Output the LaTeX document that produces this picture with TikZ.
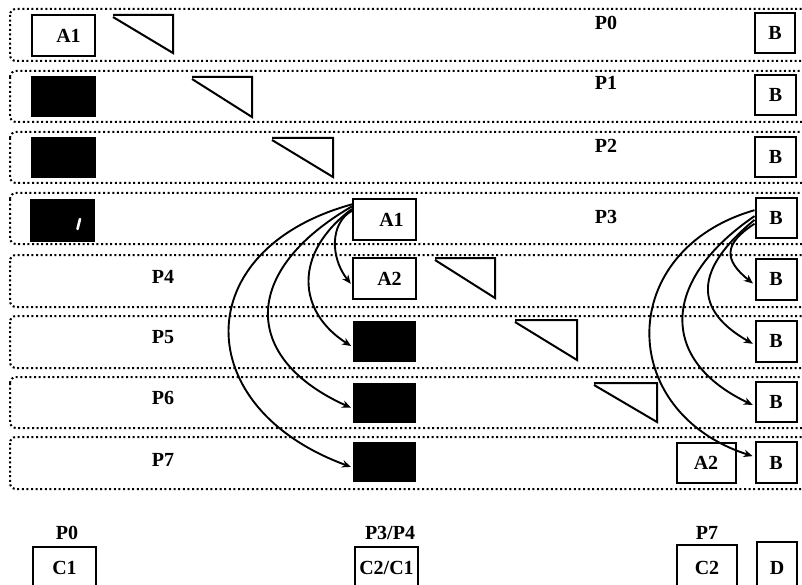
\documentclass[tikz,border=0pt]{standalone}
\usepackage{fontspec}
\setmainfont{Liberation Serif}
\usetikzlibrary{arrows.meta}
\begin{document}
\begin{tikzpicture}[x=1pt,y=-1pt,
  rowbox/.style={draw, line width=2pt, dash pattern=on 2pt off 2.6pt, rounded corners=6pt},
  box/.style={draw, line width=2pt, inner sep=0pt, font=\fontsize{20}{22}\selectfont\bfseries},
  blk/.style={fill=black, inner sep=0pt, minimum width=65pt, minimum height=41pt},
  lbl/.style={font=\fontsize{20}{22}\selectfont\bfseries, inner sep=0pt},
  tri/.style={draw, line width=2pt, line join=miter},
  arc/.style={line width=1.9pt, shorten >=2pt, -{Stealth[length=9pt,width=7.5pt]}},
  edge/.style={line width=2pt}
]
\useasboundingbox (0,0) rectangle (802,585);

% rows
\foreach \t/\b in {9/61,71/122,132/183,193/244,255/307,316/368,377/428,437/489}
  \draw[rowbox] (10,\t) rectangle (830,\b);

% left column
\node[box, minimum width=63pt, minimum height=41pt] (A1L) at (63.5,35.5) {\hspace*{10pt}A1};
\node[blk] (K1) at (63.5,97) {};
\node[blk] (K2) at (63,157.5) {};
\node[blk, minimum height=43pt] (K3) at (62,220.5) {};
\draw[white, line width=2.6pt, line cap=round] (80,219) -- (77.5,229);

% triangles
\draw[tri] (113,15) -- (173,15) -- (173,53) -- (113,17);
\draw[tri] (192,77) -- (252,77) -- (252,117) -- (192,79);
\draw[tri] (272,138) -- (333,138) -- (333,177) -- (272,140);
\draw[tri] (435,258) -- (495,258) -- (495,298) -- (435,260);
\draw[tri] (515,320) -- (577,320) -- (577,360) -- (515,322);
\draw[tri] (594,383) -- (657,383) -- (657,422) -- (594,385);

% row labels
\node[lbl] (P0) at (606,23) {P0};
\node[lbl] (P1) at (606,83) {P1};
\node[lbl] (P2) at (606,146) {P2};
\node[lbl] (P3) at (606,217) {P3};
\node[lbl] (P4) at (163,277) {P4};
\node[lbl] (P5) at (163,337) {P5};
\node[lbl] (P6) at (163,398) {P6};
\node[lbl] (P7) at (163,460) {P7};

% B column
\node[box, minimum width=40pt, minimum height=40pt] (B0) at (775,33) {B};
\node[box, minimum width=41pt, minimum height=40pt] (B1) at (775.5,95) {B};
\node[box, minimum width=41pt, minimum height=40pt] (B2) at (775.5,157) {B};
\node[box, minimum width=41pt, minimum height=40pt] (B3) at (776,218) {B};
\node[box, minimum width=41pt, minimum height=41pt] (B4) at (776,279) {B};
\node[box, minimum width=41pt, minimum height=41pt] (B5) at (776,341) {B};
\node[box, minimum width=41pt, minimum height=40pt] (B6) at (776,402) {B};
\node[box, minimum width=41pt, minimum height=41pt] (B7) at (776,462.5) {B};

% middle column
\node[box, minimum width=63pt, minimum height=41pt] (A1M) at (384.5,219.5) {\hspace*{14pt}A1};
\node[box, minimum width=63pt, minimum height=41pt] (A2M) at (384.5,278.5) {\hspace*{10pt}A2};
\node[blk, minimum width=63pt] (K5) at (384.5,341.5) {};
\node[blk, minimum width=63pt, minimum height=40pt] (K6) at (384.5,403) {};
\node[blk, minimum width=63pt, minimum height=40pt] (K7) at (384.5,462) {};
\node[box, minimum width=59pt, minimum height=40pt] (A2R) at (706,463) {A2};

% arcs from A1
\draw[arc] (A1M.165) .. controls +(-22,12) and +(-22,-28) .. (A2M.192);
\draw[arc] (A1M.162) .. controls +(-60,45) and +(-55,-35) .. (K5.190);
\draw[arc] (A1M.158) .. controls +(-112,65) and +(-111,-50) .. (K6.190);
\draw[arc] (A1M.155) .. controls +(-164,45) and +(-164,-60) .. (K7.190);

% arcs from B
\draw[arc] (B3.195) .. controls +(-31,20) and +(-31,-25) .. (B4.195);
\draw[arc] (B3.185) .. controls +(-61,50) and +(-61,-35) .. (B5.190);
\draw[arc] (B3.175) .. controls +(-95,65) and +(-95,-45) .. (B6.190);
\draw[arc] (B3.160) .. controls +(-139,40) and +(-139,-45) .. (B7.165);

% bottom
\node[lbl] (Q0) at (67,533) {P0};
\node[lbl] (Q1) at (390,533) {P3/P4};
\node[lbl] (Q2) at (707,533) {P7};
\draw[edge] (33,590) |- (96,547) -- (96,590);
\node[lbl] (C1) at (64.5,568) {C1};
\draw[edge] (355,590) |- (418,547) -- (418,590);
\node[lbl] (C21) at (386.5,568) {C2/C1};
\draw[edge] (677,590) |- (737,545) -- (737,590);
\node[lbl] (C2) at (707,568) {C2};
\draw[edge] (757,590) |- (797,542) -- (797,590);
\node[lbl] (D) at (777,568) {D};
\end{tikzpicture}
\end{document}
